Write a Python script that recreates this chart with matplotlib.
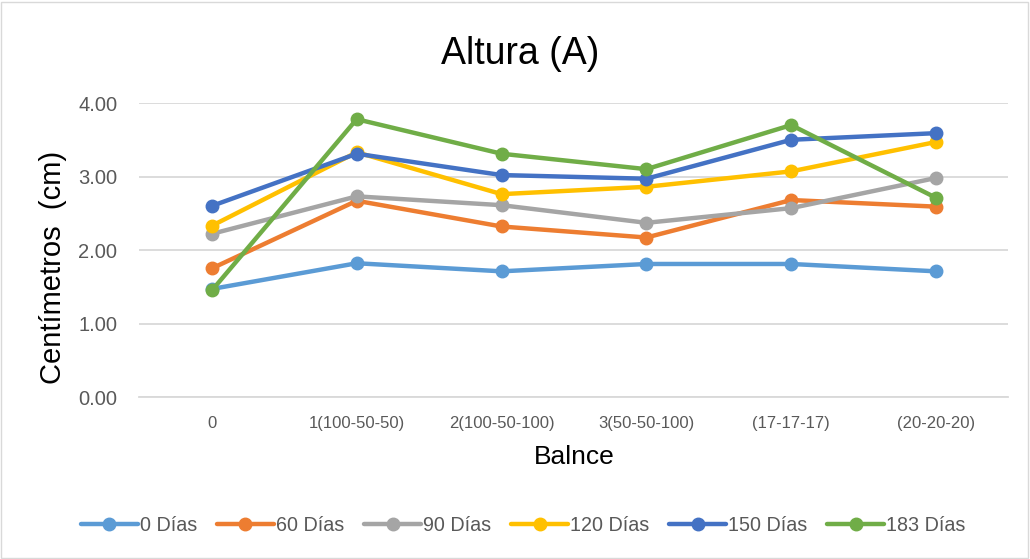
import matplotlib.pyplot as plt
from matplotlib.patches import Rectangle

plt.rcParams['font.family'] = ['Liberation Sans', 'DejaVu Sans']

categories = ['0', '1(100-50-50)', '2(100-50-100)', '3(50-50-100)', '(17-17-17)', '(20-20-20)']
series_names = ['0 Días', '60 Días', '90 Días', '120 Días', '150 Días', '183 Días']
dias_0 = [1.47, 1.82, 1.71, 1.81, 1.81, 1.71]
dias_60 = [1.75, 2.67, 2.32, 2.17, 2.68, 2.59]
dias_90 = [2.22, 2.73, 2.61, 2.37, 2.57, 2.98]
dias_120 = [2.33, 3.33, 2.76, 2.86, 3.07, 3.47]
dias_150 = [2.60, 3.31, 3.02, 2.97, 3.50, 3.59]
dias_183 = [1.45, 3.78, 3.31, 3.10, 3.70, 2.71]
colors = ['#5B9BD5', '#ED7D31', '#A5A5A5', '#FFC000', '#4472C4', '#70AD47']

fig = plt.figure(figsize=(10.3, 5.59), dpi=100)
ax = fig.add_axes([0.1354, 0.2898, 0.8437, 0.5259])

x = list(range(len(categories)))
all_series = [dias_0, dias_60, dias_90, dias_120, dias_150, dias_183]
for name, vals, c in zip(series_names, all_series, colors):
    ax.plot(x, vals, color=c, linewidth=3.2, marker='o', markersize=9,
            label=name, solid_capstyle='round')

ax.set_xlim(-0.5, len(categories) - 0.5)
ax.set_ylim(0, 4)
ax.set_yticks([0, 1, 2, 3, 4])
ax.set_yticklabels(['%.2f' % v for v in [0, 1, 2, 3, 4]], fontsize=14.5, color='#595959')
ax.set_xticks(x)
ax.set_xticklabels(categories, fontsize=12, color='#595959')
ax.tick_params(axis='x', length=0, pad=14)
ax.tick_params(axis='y', length=0, pad=16)
ax.grid(axis='y', color='#D9D9D9', linewidth=1.3)
ax.set_axisbelow(True)
for s in ['top', 'right', 'left']:
    ax.spines[s].set_visible(False)
ax.spines['bottom'].set_color('#D9D9D9')
ax.spines['bottom'].set_linewidth(1.3)

fig.text(0.558, 0.182, 'Balnce', fontsize=19, ha='center', va='center')
fig.text(0.0515, 0.522, 'Centímetros  (cm)', fontsize=21, rotation=90,
         ha='center', va='center')
fig.text(0.505, 0.903, 'Altura (A)', fontsize=27, ha='center', va='center')

fig.legend(loc='center', bbox_to_anchor=(0.508, 0.06), ncol=6, frameon=False,
           handlelength=2.9, columnspacing=1.0, handletextpad=0.1,
           labelcolor='#595959', fontsize=14.2)

fig.patches.append(Rectangle((0.001, 0.002), 0.997, 0.995, transform=fig.transFigure,
                             fill=False, edgecolor='#D9D9D9', linewidth=1))

fig.savefig('out.png', dpi=100)
